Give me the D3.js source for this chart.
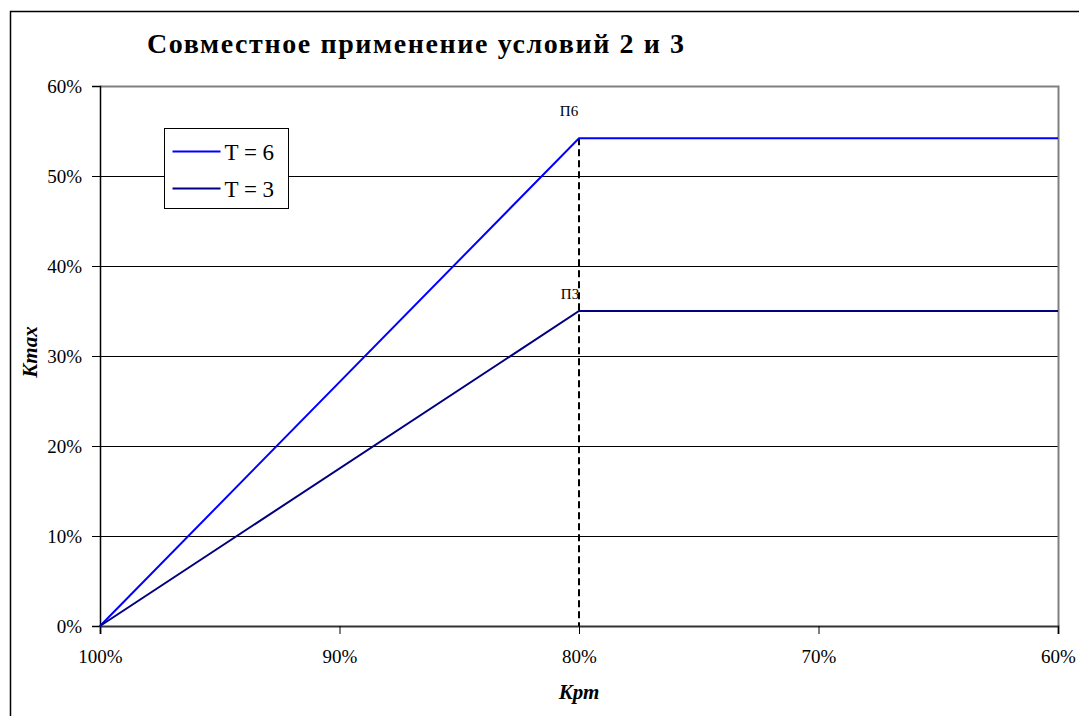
<!DOCTYPE html>
<html><head><meta charset="utf-8">
<script src="https://cdn.jsdelivr.net/npm/d3@7"></script>
<style>body{margin:0;background:#fff}svg{display:block}</style>
</head><body>
<svg id="c" width="1079" height="716"></svg>
<script>
const title = "Совместное применение условий 2 и 3";
const xTicks = [1.0, 0.9, 0.8, 0.7, 0.6];
const yTicks = [0, 0.1, 0.2, 0.3, 0.4, 0.5, 0.6];
const krt = [1.0, 0.8, 0.6];
const seriesT6 = [0, 0.542, 0.542];
const seriesT3 = [0, 0.35, 0.35];
const seriesNames = ["T = 6", "T = 3"];
const seriesColors = ["#0000ff", "#000080"];
const pointLabels = ["П6", "П3"];

const svg = d3.select("#c");
const L = 100, R = 1058, T = 86, B = 626;
const x = d3.scaleLinear().domain([1.0, 0.6]).range([L, R]);
const y = d3.scaleLinear().domain([0, 0.6]).range([B, T]);
const font = "'Liberation Serif', serif";

// outer border (left & top only visible)
svg.append("path").attr("d", `M10.5,716 V11.5 H1079`).attr("fill","none").attr("stroke","#000").attr("stroke-width",1.5);

// gridlines
svg.append("g").selectAll("line").data(yTicks.filter(d=>d>0 && d<0.6)).join("line")
  .attr("x1", L).attr("x2", R).attr("y1", d=>Math.round(y(d))+0.5).attr("y2", d=>Math.round(y(d))+0.5)
  .attr("stroke", "#000").attr("stroke-width", 1);

// plot border top/right gray
svg.append("path").attr("d", `M${L},${T+0.5} H${R+0.5} V${B}`).attr("fill","none").attr("stroke","#808080").attr("stroke-width",2);

// axes
const yAxis = d3.axisLeft(y).tickValues(yTicks).tickFormat(d3.format(".0%")).tickSize(8).tickPadding(10);
const gy = svg.append("g").attr("transform", `translate(${L},0)`).call(yAxis);
const xAxis = d3.axisBottom(x).tickValues(xTicks).tickFormat(d3.format(".0%")).tickSize(8).tickPadding(16);
const gx = svg.append("g").attr("transform", `translate(0,${B})`).call(xAxis);
[gy, gx].forEach(g => {
  g.attr("font-family", font).attr("font-size", 19);
  g.select(".domain").attr("stroke", "#000").attr("stroke-width", 1.5);
  g.selectAll(".tick line").attr("stroke", "#000");
  g.selectAll("text").style("font-family", font).style("font-size", "19px").attr("fill", "#000");
});
gx.select(".domain").attr("stroke", "#333").attr("stroke-width", 2);

// dashed line
svg.append("line").attr("x1", x(0.8)).attr("x2", x(0.8)).attr("y1", y(seriesT6[1])).attr("y2", B)
  .attr("stroke", "#000").attr("stroke-width", 2).attr("stroke-dasharray", "7,4");

// series
const line = d3.line().x((d,i)=>x(krt[i])).y(d=>y(d));
[seriesT6, seriesT3].forEach((s, k) => {
  svg.append("path").datum(s).attr("d", line).attr("fill","none")
    .attr("stroke", seriesColors[k]).attr("stroke-width", 2);
});

// point labels
svg.append("text").attr("x", x(0.8)-10).attr("y", y(seriesT6[1])-22).attr("text-anchor","middle")
  .style("font-family", font).style("font-size", "15px").text(pointLabels[0]);
svg.append("text").attr("x", x(0.8)-9).attr("y", y(seriesT3[1])-12).attr("text-anchor","middle")
  .style("font-family", font).style("font-size", "15px").text(pointLabels[1]);

// legend
const lg = svg.append("g").attr("transform","translate(164.5,128.5)");
lg.append("rect").attr("width", 124).attr("height", 80).attr("fill","#fff").attr("stroke","#000").attr("stroke-width",1);
seriesNames.forEach((n, i) => {
  const yy = 23 + i * 37;
  lg.append("line").attr("x1", 8).attr("x2", 56).attr("y1", yy).attr("y2", yy)
    .attr("stroke", seriesColors[i]).attr("stroke-width", 2);
  lg.append("text").attr("x", 60).attr("y", yy+8).style("font-family", font).style("font-size", "23px").text(n);
});

// title
svg.append("text").attr("x", 147).attr("y", 53).style("font-family", font).style("font-size", "28px")
  .style("font-weight", "bold").attr("textLength", 537).attr("lengthAdjust", "spacing").text(title);

// axis titles
svg.append("text").attr("x", x(0.8)).attr("y", 699).attr("text-anchor","middle").style("font-family", font)
  .style("font-size", "21px").style("font-weight","bold").style("font-style","italic").text("Kрт");
svg.append("text").attr("transform", `translate(37,352) rotate(-90)`).attr("text-anchor","middle")
  .style("font-family", font).style("font-size", "21px").style("font-weight","bold").style("font-style","italic").text("Kmax");
</script>
</body></html>
